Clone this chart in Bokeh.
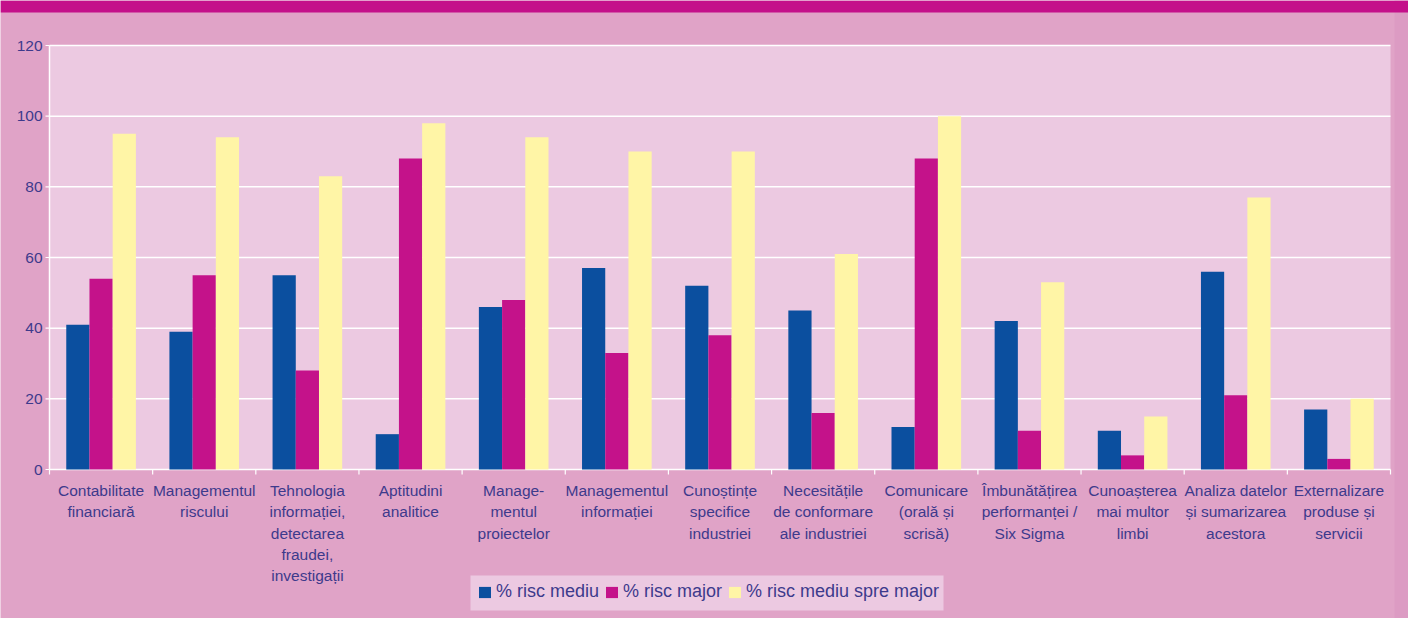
from bokeh.plotting import figure
from bokeh.models import Range1d, Legend, LegendItem, ColumnDataSource
from bokeh.core.properties import value
from bokeh.embed import file_html
from bokeh.resources import INLINE

categories = [
    ["Contabilitate", "financiară"],
    ["Managementul", "riscului"],
    ["Tehnologia", "informației,", "detectarea", "fraudei,", "investigații"],
    ["Aptitudini", "analitice"],
    ["Manage-", "mentul", "proiectelor"],
    ["Managementul", "informației"],
    ["Cunoștințe", "specifice", "industriei"],
    ["Necesitățile", "de conformare", "ale industriei"],
    ["Comunicare", "(orală și", "scrisă)"],
    ["Îmbunătățirea", "performanței /", "Six Sigma"],
    ["Cunoașterea", "mai multor", "limbi"],
    ["Analiza datelor", "și sumarizarea", "acestora"],
    ["Externalizare", "produse și", "servicii"],
]
series_names = ["% risc mediu", "% risc major", "% risc mediu spre major"]
risc_mediu = [41, 39, 55, 10, 46, 57, 52, 45, 12, 42, 11, 56, 17]
risc_major = [54, 55, 28, 88, 48, 33, 38, 16, 88, 11, 4, 21, 3]
risc_mediu_spre_major = [95, 94, 83, 98, 94, 90, 90, 61, 100, 53, 15, 77, 20]
y_ticks = [0, 20, 40, 60, 80, 100, 120]

BLUE = "#0b4f9f"
MAGENTA = "#c4128a"
YELLOW = "#fff5a6"
TEXT = "#3d3a8c"
OUTER = "#e0a3c7"
OUTER_RIGHT = "#dc9bc3"
INNER = "#ecc9e1"
HEADER = "#c4108a"
FONT = "Liberation Sans"

# pixel layout of the page
W, H = 1408, 618
PL, PR, PT, PB = 49, 1390, 45, 469
HEADER_H = 12
RIGHT_STRIP = 14
LEG_L, LEG_R, LEG_T, LEG_B = 470, 943, 575, 610

n = len(categories)
ymax = y_ticks[-1]
pxu = (PR - PL) / n          # pixels per category
ppu = (PB - PT) / ymax       # pixels per value unit


def px_x(px):
    return -PL / pxu + px / pxu


def px_y(py):
    return (PB - py) / ppu


p = figure(width=W, height=H, output_backend="svg", toolbar_location=None,
           x_range=Range1d(px_x(0), px_x(W)),
           y_range=Range1d(px_y(H), px_y(0)))
p.min_border = 0
p.min_border_left = 0
p.min_border_right = 0
p.min_border_top = 0
p.min_border_bottom = 0
p.xaxis.visible = False
p.yaxis.visible = False
p.grid.visible = False
p.outline_line_color = None
p.background_fill_color = OUTER
p.border_fill_color = OUTER

# slightly darker right strip
p.quad(left=px_x(W - RIGHT_STRIP), right=px_x(W), top=px_y(0), bottom=px_y(H),
       fill_color=OUTER_RIGHT, line_color=None)

# header band
p.quad(left=px_x(0), right=px_x(W), top=px_y(0), bottom=px_y(HEADER_H),
       fill_color=HEADER, line_color=None)

# plot area
p.quad(left=0, right=n, bottom=0, top=ymax, fill_color=INNER, line_color=None)
p.segment(x0=[0] * len(y_ticks), x1=[n] * len(y_ticks), y0=y_ticks, y1=y_ticks,
          line_color="white", line_width=1.5)
p.segment(x0=0, x1=0, y0=0, y1=ymax, line_color="white", line_width=1.5)
p.segment(x0=[0] * len(y_ticks), x1=[-4 / pxu] * len(y_ticks), y0=y_ticks, y1=y_ticks,
          line_color="white", line_width=1.2)
p.segment(x0=list(range(n + 1)), x1=list(range(n + 1)), y0=[0] * (n + 1),
          y1=[-5 / ppu] * (n + 1), line_color="white", line_width=1.2)

# legend box
p.quad(left=px_x(LEG_L), right=px_x(LEG_R), top=px_y(LEG_T), bottom=px_y(LEG_B),
       fill_color=INNER, line_color=None)

# bars
bar_w = 0.225
idx = list(range(n))
src = ColumnDataSource(dict(
    x1=[i + 0.5 - bar_w for i in idx],
    x2=[i + 0.5 for i in idx],
    x3=[i + 0.5 + bar_w for i in idx],
    a=risc_mediu, b=risc_major, c=risc_mediu_spre_major,
))
r1 = p.vbar(x="x1", top="a", bottom=0, width=bar_w, source=src, fill_color=BLUE, line_color=None)
r2 = p.vbar(x="x2", top="b", bottom=0, width=bar_w, source=src, fill_color=MAGENTA, line_color=None)
r3 = p.vbar(x="x3", top="c", bottom=0, width=bar_w, source=src, fill_color=YELLOW, line_color=None)

# y tick labels
p.text(x=[-7 / pxu] * len(y_ticks), y=y_ticks, text=[str(t) for t in y_ticks],
       text_align="right", text_baseline="middle", text_font=value(FONT),
       text_font_size="15.5px", text_color=TEXT)

# category labels
lx, ly, lt = [], [], []
for i, lines in enumerate(categories):
    for k, line in enumerate(lines):
        lx.append(i + 0.5)
        ly.append(-(21 + 21.3 * k) / ppu)
        lt.append(line)
p.text(x=lx, y=ly, text=lt, text_align="center", text_baseline="middle",
       text_font=value(FONT), text_font_size="15.5px", text_color=TEXT)

legend = Legend(items=[LegendItem(label=series_names[0], renderers=[r1]),
                       LegendItem(label=series_names[1], renderers=[r2]),
                       LegendItem(label=series_names[2], renderers=[r3])],
                orientation="horizontal", location=(477, H - 602))
legend.background_fill_alpha = 0
legend.border_line_color = None
legend.label_text_font = FONT
legend.label_text_font_size = "18px"
legend.label_text_color = TEXT
legend.label_height = 20
legend.glyph_width = 15
legend.glyph_height = 14
legend.label_standoff = 4
legend.spacing = 5
legend.padding = 0
legend.margin = 0
p.add_layout(legend)

open("out.html", "w").write(file_html(p, INLINE))
